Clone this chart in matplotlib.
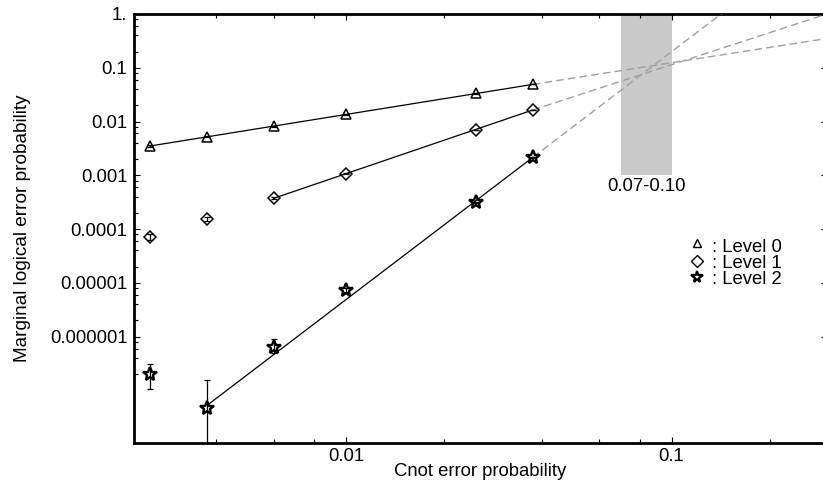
import matplotlib
matplotlib.use("Agg")
import matplotlib.pyplot as plt
from matplotlib.ticker import FixedLocator, FixedFormatter, NullFormatter

plt.rcParams['font.family'] = ['Liberation Sans', 'DejaVu Sans']

# ---- data ----
cnot_p = [0.0025, 0.00375, 0.006, 0.01, 0.025, 0.0375]
level0 = [3.5e-3, 5.2e-3, 8.2e-3, 1.36e-2, 3.34e-2, 4.98e-2]
level1 = [7.2e-5, 1.54e-4, 3.73e-4, 1.06e-3, 6.95e-3, 1.64e-2]
level2 = [2.0e-7, 4.7e-8, 6.5e-7, 7.4e-6, 3.15e-4, 2.16e-3]

level0_lo = [3.4e-3, 5.05e-3, 8.0e-3, 1.34e-2, 3.3e-2, 4.93e-2]
level0_hi = [3.6e-3, 5.35e-3, 8.4e-3, 1.38e-2, 3.38e-2, 5.03e-2]
level1_lo = [6.3e-5, 1.42e-4, 3.58e-4, 1.04e-3, 6.85e-3, 1.62e-2]
level1_hi = [8.1e-5, 1.66e-4, 3.88e-4, 1.08e-3, 7.05e-3, 1.66e-2]
level2_lo = [1.07e-7, 1e-9, 4.9e-7, 6.8e-6, 3.05e-4, 2.12e-3]
level2_hi = [3.07e-7, 1.55e-7, 8.95e-7, 8.0e-6, 3.25e-4, 2.2e-3]

# fit lines: [start, end of fit, far end of extrapolation]
fit0_x = [0.0025, 0.0375, 0.3]
fit0_y = [3.5e-3, 4.9e-2, 0.35]
fit1_x = [0.006, 0.0375, 0.3]
fit1_y = [3.73e-4, 1.64e-2, 1.0]
fit2_x = [0.00375, 0.0375, 0.3]
fit2_y = [5.3e-8, 2.16e-3, 31.5]

band_x = [0.07, 0.10]
band_y_low = 1e-3
band_label = "0.07-0.10"

legend_labels = [": Level 0", ": Level 1", ": Level 2"]

x_major = [0.01, 0.1]
x_major_labels = ["0.01", "0.1"]
x_minor = [0.004, 0.006, 0.008, 0.02, 0.04, 0.06, 0.08, 0.2]
y_major = [1e-6, 1e-5, 1e-4, 1e-3, 1e-2, 1e-1, 1.0]
y_major_labels = ["0.000001", "0.00001", "0.0001", "0.001", "0.01", "0.1", "1."]
y_minor = [m * 10.0 ** k for k in range(-7, 0) for m in (2, 4, 6, 8)]

XLIM = (0.00223, 0.3)
YLIM = (1.04e-8, 1.01)

# ---- figure ----
W, H = 823, 486
fig = plt.figure(figsize=(W / 100, H / 100), dpi=100)
L, R, T, B = 133.7, 827.0, 13.7, 443.3
ax = fig.add_axes([L / W, (H - B) / H, (R - L) / W, (B - T) / H])
ax.set_xscale('log')
ax.set_yscale('log')
ax.set_xlim(*XLIM)
ax.set_ylim(*YLIM)

FS = 13.3

# band
ax.fill_between(band_x, [band_y_low] * 2, [YLIM[1]] * 2, color='#c9c9c9',
                linewidth=0, zorder=1)
ax.annotate(band_label, xy=((band_x[0] * band_x[1]) ** 0.5, band_y_low),
            xytext=(0, -2.2), textcoords='offset points', ha='center',
            va='top', fontsize=FS, color='black')

# fit lines
for fx, fy in [(fit0_x, fit0_y), (fit1_x, fit1_y), (fit2_x, fit2_y)]:
    ax.plot(fx[:2], fy[:2], color='black', lw=0.9, zorder=2)
    ax.plot(fx[1:], fy[1:], color='#a0a0a0', lw=1.0, dashes=(5.5, 3.0), zorder=3)

styles = [dict(marker='^', ms=7.5, mew=1.1), dict(marker='D', ms=6.5, mew=1.1),
          dict(marker='*', ms=10, mew=1.7)]
series = [(level0, level0_lo, level0_hi), (level1, level1_lo, level1_hi),
          (level2, level2_lo, level2_hi)]
for (vals, lo, hi), st in zip(series, styles):
    yerr = [[v - l for v, l in zip(vals, lo)], [h - v for v, h in zip(vals, hi)]]
    ax.errorbar(cnot_p, vals, yerr=yerr, fmt='none', ecolor='black',
                elinewidth=0.9, capsize=2.2, capthick=0.9, zorder=4)
    ax.plot(cnot_p, vals, linestyle='none', marker=st['marker'], ms=st['ms'],
            mfc='none', mec='black', mew=st['mew'], zorder=5)

# ticks
ax.xaxis.set_major_locator(FixedLocator(x_major))
ax.xaxis.set_major_formatter(FixedFormatter(x_major_labels))
ax.xaxis.set_minor_locator(FixedLocator(x_minor))
ax.xaxis.set_minor_formatter(NullFormatter())
ax.yaxis.set_major_locator(FixedLocator(y_major))
ax.yaxis.set_major_formatter(FixedFormatter(y_major_labels))
ax.yaxis.set_minor_locator(FixedLocator(y_minor))
ax.yaxis.set_minor_formatter(NullFormatter())
ax.tick_params(which='both', direction='in', top=True, right=True,
               labelsize=FS, color='black', width=0.8)
ax.tick_params(which='major', length=4.5)
ax.tick_params(which='minor', length=2.8)
ax.tick_params(axis='x', which='major', pad=3.5)
ax.tick_params(axis='y', which='major', pad=4.5)
for s in ax.spines.values():
    s.set_linewidth(2.0)

ax.set_xlabel("Cnot error probability", fontsize=FS)
ax.set_ylabel("Marginal logical error probability", fontsize=13.7)
ax.xaxis.set_label_coords(0.5, -0.046)
ax.yaxis.set_label_coords(-0.148, 0.5)

# legend (manual, Mathematica-like)
leg_marker_x = 0.812
leg_text_x = 0.834
leg_top = 0.4446
leg_step = 0.0365
marker_offsets = [0.021, 0.0156, 0.0146]
leg_ms = [6.0, 6.0, 8.5]
leg_mew = [1.0, 1.0, 1.6]
for i, (lab, st) in enumerate(zip(legend_labels, styles)):
    yb = leg_top - i * leg_step
    ax.text(leg_text_x, yb, lab, transform=ax.transAxes, fontsize=FS,
            ha='left', va='baseline')
    ax.plot([leg_marker_x], [yb + marker_offsets[i]], transform=ax.transAxes,
            marker=st['marker'], ms=leg_ms[i], mfc='none', mec='black',
            mew=leg_mew[i], linestyle='none', clip_on=False)

fig.savefig("out.png", dpi=100)
